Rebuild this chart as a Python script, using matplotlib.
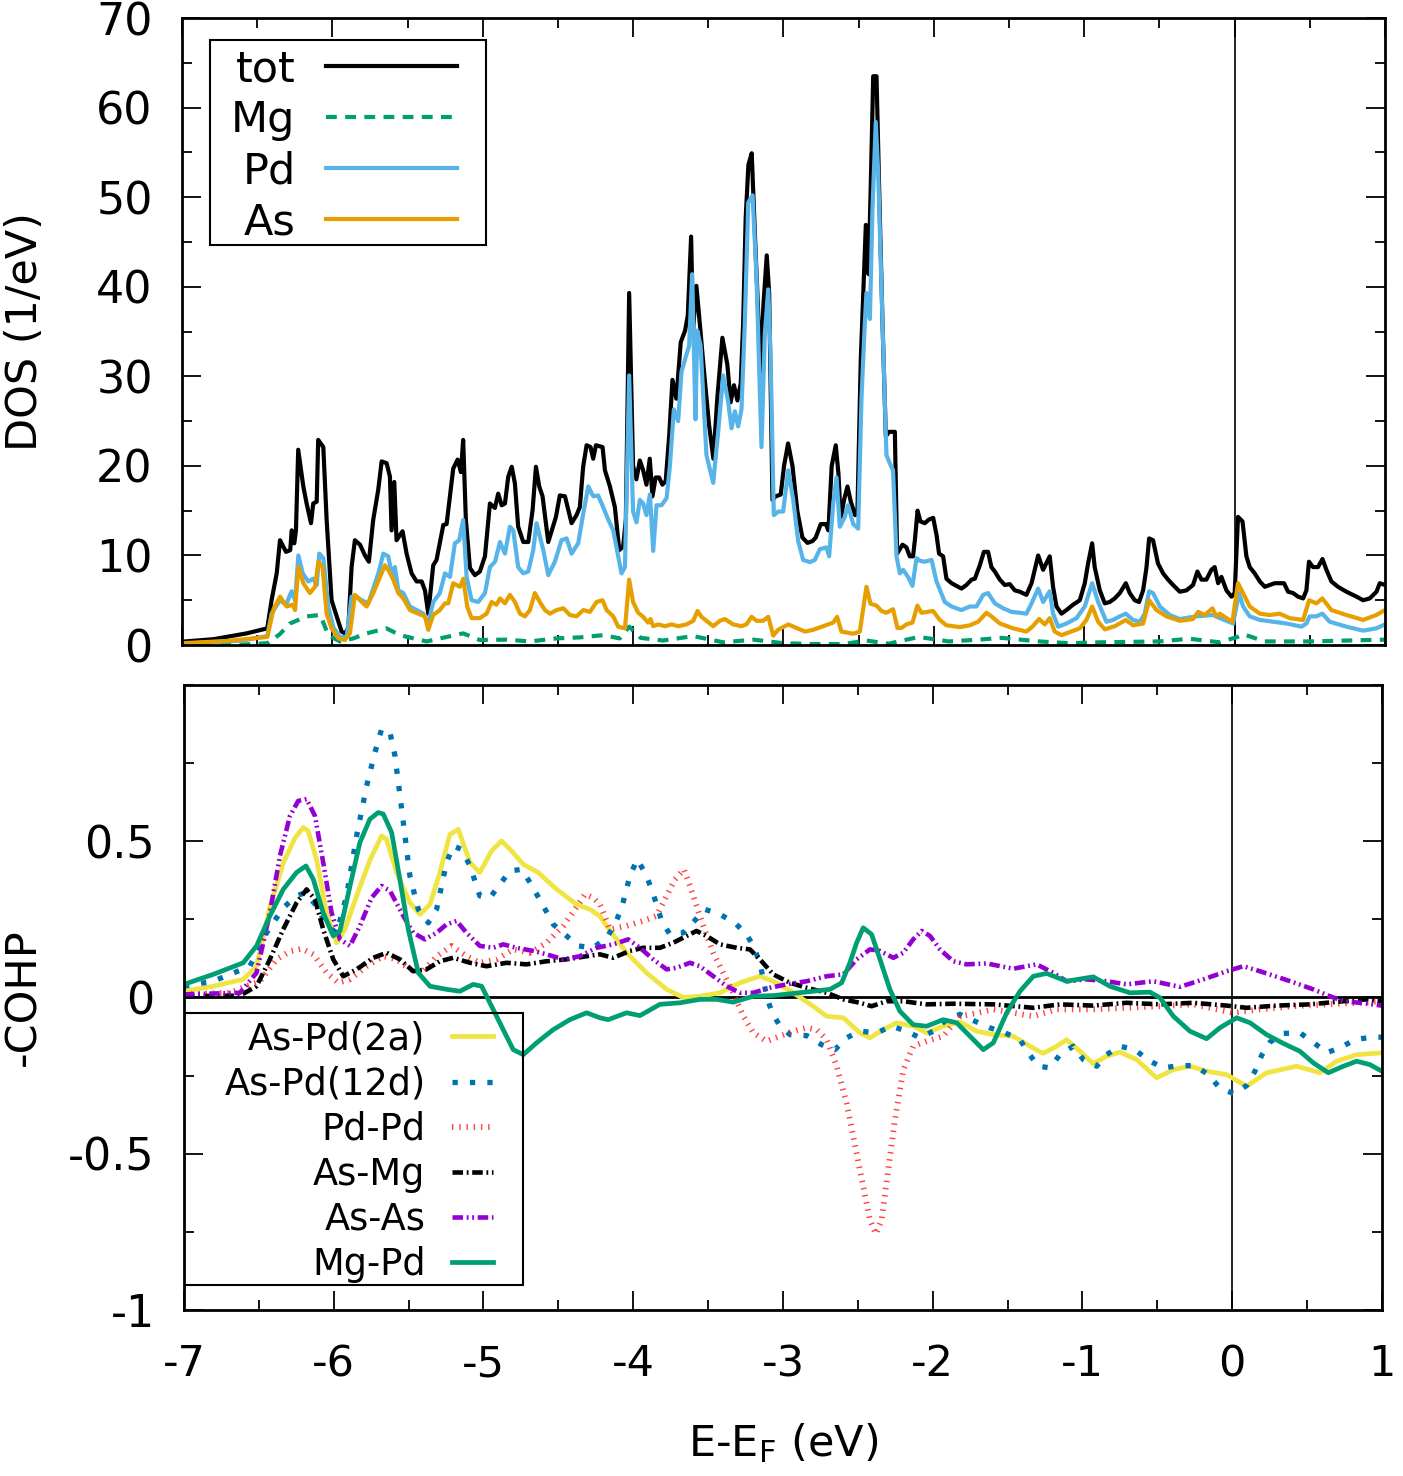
import matplotlib
matplotlib.use("Agg")
import matplotlib.pyplot as plt
from matplotlib.patches import Rectangle
from matplotlib.ticker import MultipleLocator

plt.rcParams['font.family'] = ['DejaVu Sans']
plt.rcParams['axes.unicode_minus'] = False
plt.rcParams['mathtext.default'] = 'regular'

# ---------------- DOS data (energy, value) ----------------
tot_e = [-7.0, -6.79, -6.57, -6.433, -6.404, -6.37, -6.348, -6.308, -6.28, -6.27, -6.253, -6.242, -6.227, -6.193,
         -6.171, -6.142, -6.127, -6.104, -6.094, -6.06, -6.038, -6.005, -5.971, -5.938, -5.916, -5.894, -5.872, -5.85,
         -5.816, -5.783, -5.757, -5.728, -5.695, -5.672, -5.639, -5.617, -5.606, -5.588, -5.573, -5.533, -5.506,
         -5.473, -5.44, -5.406, -5.384, -5.362, -5.329, -5.307, -5.262, -5.24, -5.218, -5.196, -5.167, -5.145, -5.13,
         -5.112, -5.085, -5.052, -5.019, -4.985, -4.952, -4.919, -4.897, -4.874, -4.852, -4.83, -4.807, -4.786,
         -4.764, -4.73, -4.697, -4.668, -4.646, -4.624, -4.602, -4.564, -4.542, -4.513, -4.487, -4.453, -4.431,
         -4.409, -4.376, -4.354, -4.332, -4.309, -4.283, -4.265, -4.247, -4.203, -4.187, -4.154, -4.121, -4.092,
         -4.066, -4.048, -4.026, -4.0, -3.978, -3.955, -3.933, -3.911, -3.889, -3.871, -3.85, -3.827, -3.805, -3.783,
         -3.76, -3.738, -3.712, -3.683, -3.654, -3.636, -3.614, -3.601, -3.579, -3.561, -3.528, -3.495, -3.466,
         -3.44, -3.406, -3.373, -3.351, -3.329, -3.306, -3.284, -3.268, -3.251, -3.233, -3.211, -3.184, -3.151,
         -3.133, -3.111, -3.095, -3.073, -3.051, -3.018, -2.996, -2.969, -2.94, -2.907, -2.874, -2.84, -2.807,
         -2.785, -2.752, -2.718, -2.701, -2.679, -2.652, -2.634, -2.619, -2.597, -2.574, -2.552, -2.523, -2.508,
         -2.486, -2.463, -2.452, -2.434, -2.419, -2.403, -2.381, -2.363, -2.341, -2.319, -2.297, -2.259, -2.244,
         -2.208, -2.182, -2.16, -2.138, -2.126, -2.108, -2.089, -2.06, -2.033, -2.004, -1.982, -1.965, -1.938,
         -1.916, -1.882, -1.849, -1.816, -1.783, -1.749, -1.727, -1.694, -1.667, -1.639, -1.617, -1.594, -1.561,
         -1.528, -1.495, -1.461, -1.428, -1.384, -1.35, -1.306, -1.273, -1.229, -1.207, -1.184, -1.151, -1.118,
         -1.074, -1.029, -0.996, -0.974, -0.947, -0.93, -0.896, -0.863, -0.83, -0.797, -0.763, -0.723, -0.697,
         -0.664, -0.635, -0.608, -0.586, -0.568, -0.542, -0.509, -0.475, -0.442, -0.409, -0.364, -0.32, -0.276,
         -0.247, -0.22, -0.187, -0.154, -0.132, -0.109, -0.087, -0.054, -0.02, 0.001, 0.023, 0.053, 0.079, 0.101,
         0.134, 0.168, 0.201, 0.234, 0.267, 0.3, 0.329, 0.356, 0.389, 0.422, 0.456, 0.478, 0.495, 0.522, 0.555,
         0.585, 0.611, 0.644, 0.688, 0.744, 0.811, 0.855, 0.899, 0.944, 0.966, 1.0]
tot_v = [0.37, 0.65, 1.3, 1.86, 5.0, 8.0, 11.7, 10.4, 10.6, 12.8, 11.35, 12.8, 21.8, 17.7,
         15.8, 13.6, 15.8, 16.0, 22.9, 22.1, 14.0, 5.0, 3.2, 1.5, 1.3, 1.86, 8.7, 11.7,
         11.2, 10.0, 9.3, 14.0, 17.3, 20.5, 20.3, 18.8, 12.8, 18.2, 11.7, 12.7, 10.2,
         8.0, 7.1, 7.1, 6.1, 3.5, 8.9, 9.5, 13.4, 13.5, 16.6, 19.7, 20.7, 19.3, 22.9,
         14.0, 8.6, 7.8, 8.2, 9.9, 15.8, 15.3, 16.9, 15.6, 15.8, 18.8, 19.9, 18.05,
         13.2, 11.5, 11.5, 15.1, 19.9, 17.7, 16.6, 11.5, 12.7, 14.3, 16.7, 16.6, 15.1,
         13.6, 14.5, 15.4, 19.9, 22.3, 22.1, 20.8, 22.3, 22.1, 19.5, 17.7, 15.4, 10.6,
         11.0, 14.0, 39.3, 20.0, 18.5, 20.6, 19.5, 17.9, 20.8, 16.6, 18.7, 18.7, 17.9, 18.3,
         23.3, 29.6, 27.5, 33.8, 35.1, 36.8, 45.6, 35.1, 40.1, 36.8, 30.5, 24.6, 20.8,
         27.5, 34.3, 31.3, 27.1, 29.0, 27.3, 29.2, 35.9, 47.7, 53.6, 54.9, 43.5, 30.5,
         38.0, 43.5, 39.3, 16.2, 16.6, 16.8, 20.0, 22.5, 20.0, 14.9, 12.0, 11.4, 11.6,
         12.0, 13.5, 13.5, 12.8, 20.0, 22.3, 19.1, 14.1, 16.2, 17.7, 16.0, 14.5, 14.9,
         31.7, 41.8, 46.9, 41.4, 51.5, 63.5, 63.5, 50.7, 35.9, 23.3, 23.8, 23.8, 10.2,
         11.2, 10.9, 9.9, 9.9, 11.7, 15.0, 13.8, 13.6, 14.0, 14.2, 12.3, 10.2, 9.9,
         7.4, 6.9, 6.6, 6.3, 6.7, 7.3, 7.4, 8.9, 10.4, 10.4, 8.7, 8.2, 7.3,
         6.7, 6.8, 6.1, 5.95, 5.6, 6.9, 10.0, 8.4, 9.9, 6.5, 4.3, 3.5, 3.9,
         4.5, 5.0, 6.9, 9.1, 11.35, 8.7, 6.1, 4.65, 4.8, 5.2, 5.8, 6.9, 5.8,
         5.0, 4.8, 6.1, 8.6, 11.9, 11.7, 9.1, 8.0, 7.3, 6.7, 5.95, 6.1, 6.7,
         8.2, 7.3, 7.3, 8.4, 8.7, 6.9, 7.6, 6.1, 5.4, 5.8, 14.3, 13.8, 9.9, 8.7,
         8.0, 7.1, 6.5, 6.7, 6.9, 6.9, 6.9, 5.95, 5.8, 5.4, 5.2, 6.1, 9.3, 8.7, 8.7,
         9.6, 8.4, 7.1, 6.5, 5.95, 5.4, 5.0, 5.2, 5.95, 6.9, 6.7]

mg_e = [-7.0, -6.6, -6.432, -6.35, -6.282, -6.171, -6.08, -6.027, -5.95, -5.86, -5.772, -5.64, -5.55, -5.46,
        -5.373, -5.24, -5.13, -5.02, -4.84, -4.686, -4.509, -4.354, -4.199, -4.088, -4.026, -3.95, -3.8, -3.6,
        -3.4, -3.2, -3.0, -2.8, -2.6, -2.45, -2.3, -2.1, -1.9, -1.7, -1.55, -1.3, -1.1, -0.9, -0.5, -0.3, -0.1,
        0.02, 0.06, 0.2, 0.5, 1.0]
mg_v = [0.0, 0.05, 0.2, 1.2, 2.4, 3.2, 3.35, 1.1, 0.4, 0.74, 1.3, 1.86, 1.1, 0.74,
        0.4, 0.9, 1.3, 0.56, 0.6, 0.4, 0.74, 0.85, 1.1, 0.74, 2.05, 0.8, 0.5, 1.0,
        0.3, 0.6, 0.2, 0.1, 0.1, 0.5, 0.15, 0.9, 0.4, 0.6, 0.8, 0.4, 0.2, 0.3, 0.4, 0.7, 0.3,
        0.9, 1.2, 0.4, 0.4, 0.6]

pd_e = [-7.0, -6.6, -6.433, -6.404, -6.349, -6.308, -6.271, -6.248, -6.226, -6.197, -6.16, -6.126, -6.104,
        -6.087, -6.06, -6.027, -5.994, -5.95, -5.905, -5.872, -5.839, -5.805, -5.761, -5.728, -5.694, -5.661,
        -5.628, -5.601, -5.584, -5.561, -5.528, -5.484, -5.44, -5.395, -5.362, -5.329, -5.285, -5.251, -5.218,
        -5.185, -5.156, -5.13, -5.107, -5.074, -5.03, -4.985, -4.952, -4.918, -4.885, -4.852, -4.819, -4.797,
        -4.764, -4.73, -4.697, -4.664, -4.642, -4.597, -4.564, -4.52, -4.476, -4.442, -4.409, -4.365, -4.331,
        -4.298, -4.265, -4.232, -4.199, -4.165, -4.132, -4.099, -4.077, -4.054, -4.026, -4.0, -3.977, -3.955,
        -3.933, -3.911, -3.888, -3.866, -3.844, -3.811, -3.777, -3.755, -3.729, -3.7, -3.678, -3.649, -3.627,
        -3.607, -3.585, -3.573, -3.551, -3.512, -3.467, -3.434, -3.401, -3.367, -3.345, -3.323, -3.301, -3.279,
        -3.257, -3.234, -3.205, -3.179, -3.146, -3.124, -3.101, -3.086, -3.064, -3.035, -3.002, -2.968, -2.935,
        -2.902, -2.869, -2.824, -2.791, -2.758, -2.714, -2.696, -2.669, -2.647, -2.625, -2.592, -2.57, -2.536,
        -2.503, -2.481, -2.459, -2.448, -2.425, -2.408, -2.386, -2.37, -2.341, -2.315, -2.293, -2.271, -2.248,
        -2.226, -2.204, -2.171, -2.142, -2.115, -2.093, -2.06, -2.015, -1.982, -1.927, -1.882, -1.816, -1.76,
        -1.716, -1.672, -1.639, -1.594, -1.539, -1.483, -1.428, -1.384, -1.35, -1.306, -1.273, -1.229, -1.207,
        -1.173, -1.118, -1.051, -0.996, -0.947, -0.907, -0.852, -0.808, -0.763, -0.723, -0.675, -0.63, -0.597,
        -0.568, -0.542, -0.497, -0.431, -0.364, -0.253, -0.143, -0.098, -0.01, 0.03, 0.057, 0.101, 0.168, 0.256,
        0.345, 0.445, 0.478, 0.5, 0.545, 0.584, 0.633, 0.744, 0.855, 0.943, 1.0]
pd_v = [0.15, 0.5, 1.0, 3.5, 5.0, 4.5, 6.0, 5.0, 10.0, 8.0, 7.1, 7.4, 6.7,
        10.2, 9.7, 4.3, 2.0, 0.9, 0.9, 5.4, 5.4, 5.0, 4.65, 6.3, 8.0, 10.2,
        9.9, 7.6, 8.7, 6.1, 5.8, 4.3, 3.9, 3.5, 2.4, 4.8, 5.8, 8.0, 7.6,
        11.35, 11.7, 13.96, 7.6, 5.0, 4.8, 5.8, 8.7, 9.3, 11.5, 10.2, 13.2, 12.8,
        8.7, 8.0, 8.2, 10.6, 13.6, 10.6, 7.8, 9.3, 11.7, 11.9, 10.2, 11.35, 14.7,
        17.7, 16.6, 16.7, 15.4, 14.0, 12.8, 9.9, 8.0, 8.7, 30.1, 14.9, 13.7, 16.2,
        15.8, 14.5, 16.8, 10.5, 15.6, 15.6, 16.4, 20.0, 26.3, 25.0, 30.5, 32.2, 33.4,
        41.4, 25.2, 35.1, 33.4, 21.2, 18.1, 23.8, 30.1, 27.1, 24.2, 26.1, 24.4, 26.3,
        35.9, 49.4, 50.2, 41.0, 22.1, 34.7, 39.7, 32.6, 14.5, 14.9, 14.9, 19.5, 16.2,
        11.6, 9.5, 9.25, 9.5, 10.7, 10.9, 9.9, 15.8, 18.7, 13.2, 14.3, 15.6, 13.5,
        13.0, 27.5, 35.9, 39.3, 36.4, 48.6, 58.4, 52.8, 35.9, 21.2, 20.3, 19.5, 9.9,
        8.0, 8.4, 7.6, 6.6, 9.7, 9.4, 9.3, 9.5, 7.1, 4.8, 4.3, 3.9, 4.3,
        4.3, 5.6, 5.8, 4.65, 4.1, 3.7, 3.6, 3.5, 4.65, 6.3, 4.8, 6.0, 3.5,
        2.05, 2.4, 3.0, 4.3, 6.9, 4.8, 2.6, 2.8, 3.2, 3.5, 2.8, 2.6, 3.5,
        6.0, 5.8, 4.3, 3.35, 2.9, 3.2, 3.35, 3.0, 2.4, 5.8, 4.3, 3.2, 2.8, 2.6,
        2.4, 2.05, 2.4, 3.2, 3.2, 3.5, 2.6, 2.05, 1.6, 1.86, 2.3]

as_e = [-7.0, -6.7, -6.432, -6.393, -6.348, -6.304, -6.264, -6.248, -6.226, -6.193, -6.149, -6.115, -6.093,
        -6.065, -6.038, -6.005, -5.96, -5.916, -5.883, -5.85, -5.816, -5.772, -5.728, -5.683, -5.65, -5.621,
        -5.595, -5.561, -5.528, -5.484, -5.429, -5.384, -5.362, -5.329, -5.285, -5.251, -5.229, -5.196, -5.151,
        -5.129, -5.103, -5.074, -5.019, -4.974, -4.941, -4.908, -4.885, -4.852, -4.819, -4.786, -4.752, -4.719,
        -4.686, -4.653, -4.62, -4.586, -4.553, -4.509, -4.464, -4.42, -4.376, -4.331, -4.287, -4.243, -4.203,
        -4.176, -4.132, -4.099, -4.054, -4.026, -4.0, -3.966, -3.933, -3.9, -3.884, -3.866, -3.833, -3.788,
        -3.744, -3.7, -3.645, -3.6, -3.571, -3.545, -3.512, -3.467, -3.423, -3.39, -3.334, -3.279, -3.246,
        -3.212, -3.179, -3.135, -3.101, -3.068, -3.035, -2.968, -2.913, -2.857, -2.802, -2.736, -2.669, -2.643,
        -2.614, -2.536, -2.492, -2.448, -2.421, -2.381, -2.348, -2.315, -2.271, -2.242, -2.215, -2.182, -2.142,
        -2.109, -2.082, -2.005, -1.96, -1.916, -1.827, -1.76, -1.705, -1.65, -1.617, -1.561, -1.472, -1.384,
        -1.344, -1.3, -1.262, -1.229, -1.196, -1.151, -1.029, -0.985, -0.947, -0.907, -0.863, -0.797, -0.723,
        -0.675, -0.608, -0.568, -0.519, -0.453, -0.364, -0.276, -0.242, -0.198, -0.147, -0.121, -0.098, -0.054,
        -0.014, 0.023, 0.057, 0.101, 0.168, 0.234, 0.3, 0.367, 0.456, 0.496, 0.544, 0.584, 0.644, 0.744, 0.855,
        0.943, 1.0]
as_v = [0.2, 0.45, 0.9, 3.9, 5.4, 4.3, 4.5, 3.9, 8.7, 6.9, 5.8, 6.5, 9.3,
        8.7, 3.5, 1.86, 0.74, 0.56, 1.3, 5.6, 5.0, 4.3, 5.8, 7.6, 8.9, 8.2,
        7.3, 5.8, 5.2, 3.9, 3.5, 3.2, 1.7, 3.35, 3.9, 4.65, 4.65, 6.9, 6.5,
        7.4, 4.3, 3.0, 3.0, 3.5, 4.8, 4.5, 5.2, 4.65, 5.6, 4.8, 3.5, 3.2,
        3.9, 5.8, 4.8, 3.9, 3.5, 3.9, 4.1, 3.35, 3.2, 3.9, 3.7, 4.8, 5.0,
        3.9, 3.2, 2.05, 1.86, 7.3, 4.8, 3.6, 3.15, 2.5, 2.9, 2.1, 2.3, 2.1,
        2.3, 2.1, 2.3, 2.7, 3.8, 3.15, 2.7, 2.1, 2.7, 2.9, 2.3, 2.1, 2.3,
        3.15, 2.7, 2.7, 3.15, 1.05, 1.7, 2.3, 1.9, 1.5, 1.7, 2.1, 2.5, 3.15,
        1.5, 1.26, 1.5, 6.5, 4.6, 4.4, 3.8, 3.6, 4.0, 1.9, 1.9, 2.3, 2.5,
        4.4, 3.6, 3.8, 2.8, 2.2, 2.0, 2.2, 2.6, 3.6, 3.2, 2.4, 1.86, 1.5,
        2.05, 2.9, 2.3, 3.0, 1.5, 1.1, 1.86, 2.8, 4.3, 2.6, 1.75, 2.1, 2.8,
        2.2, 2.4, 5.0, 3.9, 3.2, 2.7, 2.9, 3.7, 3.35, 4.1, 3.2, 3.5, 3.0,
        2.6, 6.9, 5.8, 4.3, 3.5, 3.35, 3.5, 3.0, 2.8, 5.0, 4.65, 5.2, 3.9, 3.35, 2.8,
        3.35, 3.9]

# ---------------- COHP data (energy, -COHP) ----------------
aspd2a_e = [-7.0, -6.804, -6.604, -6.515, -6.426, -6.337, -6.259, -6.203, -6.17, -6.114, -6.047, -5.98, -5.925,
            -5.847, -5.758, -5.68, -5.647, -5.58, -5.491, -5.424, -5.357, -5.291, -5.224, -5.168, -5.09, -5.024,
            -4.946, -4.879, -4.812, -4.734, -4.634, -4.511, -4.378, -4.289, -4.222, -4.178, -4.044, -3.911, -3.777,
            -3.666, -3.554, -3.421, -3.287, -3.154, -3.065, -2.931, -2.798, -2.708, -2.597, -2.486, -2.419, -2.33,
            -2.241, -2.13, -2.041, -1.93, -1.818, -1.707, -1.595, -1.462, -1.351, -1.262, -1.172, -1.106, -1.017,
            -0.928, -0.839, -0.75, -0.638, -0.505, -0.393, -0.282, -0.171, -0.037, 0.096, 0.23, 0.43, 0.586, 0.697,
            0.831, 1.0]
aspd2a_v = [0.02, 0.036, 0.058, 0.1, 0.29, 0.43, 0.51, 0.544, 0.533, 0.44, 0.27, 0.175, 0.218,
            0.325, 0.44, 0.517, 0.506, 0.4, 0.303, 0.266, 0.298, 0.4, 0.522, 0.538, 0.432, 0.4,
            0.469, 0.501, 0.469, 0.426, 0.4, 0.346, 0.298, 0.282, 0.26, 0.229, 0.143, 0.079, 0.026,
            0.0, 0.004, 0.015, 0.047, 0.068, 0.052, 0.015, -0.028, -0.06, -0.065, -0.113, -0.129, -0.103,
            -0.081, -0.092, -0.113, -0.092, -0.078, -0.108, -0.119, -0.124, -0.156, -0.179, -0.156, -0.135, -0.172,
            -0.212, -0.188, -0.175, -0.199, -0.257, -0.231, -0.22, -0.236, -0.247, -0.284, -0.241, -0.22, -0.241,
            -0.204, -0.183, -0.177]

aspd12d_e = [-7.0, -6.804, -6.56, -6.448, -6.337, -6.248, -6.192, -6.114, -6.047, -5.98, -5.914, -5.847, -5.78,
             -5.725, -5.68, -5.624, -5.591, -5.546, -5.491, -5.435, -5.368, -5.313, -5.246, -5.202, -5.146, -5.09,
             -5.024, -4.957, -4.89, -4.823, -4.745, -4.689, -4.6, -4.534, -4.445, -4.367, -4.267, -4.178, -4.122,
             -4.077, -4.022, -3.973, -3.915, -3.877, -3.844, -3.81, -3.755, -3.666, -3.599, -3.521, -3.421, -3.321,
             -3.243, -3.198, -3.154, -3.131, -3.109, -3.076, -3.02, -2.953, -2.842, -2.742, -2.653, -2.575, -2.486,
             -2.374, -2.274, -2.174, -2.085, -1.996, -1.907, -1.818, -1.718, -1.618, -1.518, -1.417, -1.362, -1.295,
             -1.217, -1.15, -1.061, -0.994, -0.905, -0.839, -0.75, -0.649, -0.56, -0.46, -0.349, -0.249, -0.16,
             -0.082, 0.012, 0.096, 0.152, 0.197, 0.252, 0.341, 0.452, 0.541, 0.63, 0.72, 0.82, 0.931, 1.0]
aspd12d_v = [0.036, 0.052, 0.1, 0.207, 0.287, 0.325, 0.335, 0.293, 0.229, 0.207, 0.325, 0.517, 0.677,
             0.784, 0.859, 0.848, 0.774, 0.603, 0.389, 0.282, 0.239, 0.282, 0.432, 0.485, 0.474, 0.421,
             0.325, 0.319, 0.362, 0.405, 0.41, 0.368, 0.293, 0.234, 0.197, 0.165, 0.159, 0.191, 0.234,
             0.287, 0.389, 0.442, 0.394, 0.346, 0.298, 0.245, 0.202, 0.207, 0.241, 0.282, 0.266, 0.239,
             0.202, 0.165, 0.111, 0.058, 0.004, -0.044, -0.092, -0.119, -0.122, -0.151, -0.167, -0.129, -0.108,
             -0.113, -0.092, -0.108, -0.129, -0.108, -0.071, -0.054, -0.076, -0.097, -0.113, -0.135, -0.177, -0.22,
             -0.225, -0.183, -0.156, -0.199, -0.22, -0.183, -0.156, -0.167, -0.201, -0.225, -0.218, -0.218, -0.247,
             -0.29, -0.308, -0.282, -0.236, -0.185, -0.143, -0.115, -0.113, -0.143, -0.177, -0.161, -0.135, -0.127,
             -0.127]

pdpd_e = [-7.0, -6.693, -6.493, -6.381, -6.292, -6.214, -6.136, -6.047, -5.969, -5.892, -5.78, -5.669, -5.58,
          -5.491, -5.402, -5.313, -5.213, -5.113, -5.024, -4.912, -4.801, -4.689, -4.578, -4.467, -4.389, -4.322,
          -4.267, -4.222, -4.155, -4.044, -3.933, -3.844, -3.777, -3.721, -3.661, -3.621, -3.577, -3.532, -3.465,
          -3.399, -3.332, -3.265, -3.198, -3.109, -3.02, -2.931, -2.842, -2.775, -2.708, -2.641, -2.575, -2.508,
          -2.464, -2.419, -2.379, -2.341, -2.297, -2.252, -2.196, -2.13, -2.041, -1.93, -1.818, -1.707, -1.595,
          -1.462, -1.328, -1.172, -0.928, -0.705, -0.482, -0.26, 0.007, 0.185, 0.408, 0.63, 0.853, 1.0]
pdpd_v = [0.01, 0.015, 0.052, 0.122, 0.148, 0.156, 0.138, 0.079, 0.047, 0.058, 0.1, 0.132, 0.122,
          0.09, 0.084, 0.132, 0.165, 0.132, 0.111, 0.122, 0.154, 0.143, 0.175, 0.229, 0.282, 0.33,
          0.319, 0.298, 0.218, 0.229, 0.245, 0.261, 0.325, 0.378, 0.41, 0.357, 0.293, 0.229, 0.143,
          0.079, 0.015, -0.06, -0.113, -0.14, -0.124, -0.108, -0.097, -0.103, -0.135, -0.22, -0.338, -0.498,
          -0.605, -0.712, -0.757, -0.712, -0.551, -0.391, -0.231, -0.156, -0.14, -0.124, -0.06, -0.05, -0.038,
          -0.049, -0.06, -0.038, -0.038, -0.033, -0.028, -0.022, -0.049, -0.038, -0.028, -0.022, -0.017, -0.012]

asmg_e = [-7.0, -6.626, -6.515, -6.426, -6.337, -6.248, -6.181, -6.125, -6.07, -6.003, -5.936, -5.847, -5.736,
          -5.647, -5.558, -5.469, -5.38, -5.291, -5.202, -5.09, -4.979, -4.845, -4.712, -4.578, -4.445, -4.311,
          -4.222, -4.133, -4.022, -3.933, -3.822, -3.733, -3.643, -3.577, -3.51, -3.421, -3.309, -3.221, -3.154,
          -3.065, -2.953, -2.842, -2.708, -2.597, -2.486, -2.408, -2.308, -2.197, -2.041, -1.863, -1.595, -1.328,
          -1.15, -0.928, -0.705, -0.482, -0.26, -0.037, 0.096, 0.296, 0.519, 0.742, 0.898, 1.0]
asmg_v = [0.004, 0.006, 0.036, 0.122, 0.218, 0.303, 0.346, 0.314, 0.218, 0.122, 0.068, 0.09, 0.127,
          0.143, 0.122, 0.084, 0.09, 0.116, 0.127, 0.111, 0.1, 0.111, 0.106, 0.116, 0.122, 0.132,
          0.138, 0.127, 0.149, 0.159, 0.159, 0.175, 0.197, 0.213, 0.197, 0.17, 0.159, 0.154, 0.122,
          0.074, 0.047, 0.031, 0.015, -0.006, -0.017, -0.028, -0.012, -0.012, -0.022, -0.02, -0.022, -0.033,
          -0.022, -0.026, -0.017, -0.022, -0.017, -0.026, -0.033, -0.026, -0.022, -0.012, -0.006, -0.012]

asas_e = [-7.0, -6.626, -6.515, -6.426, -6.359, -6.292, -6.237, -6.181, -6.125, -6.07, -6.014, -5.958, -5.891,
          -5.825, -5.747, -5.68, -5.624, -5.535, -5.469, -5.391, -5.313, -5.246, -5.179, -5.113, -5.024, -4.934,
          -4.868, -4.779, -4.667, -4.578, -4.467, -4.356, -4.245, -4.133, -4.033, -3.955, -3.866, -3.777, -3.71,
          -3.621, -3.555, -3.465, -3.376, -3.287, -3.198, -3.087, -2.976, -2.842, -2.708, -2.597, -2.508, -2.419,
          -2.352, -2.263, -2.197, -2.13, -2.074, -2.018, -1.952, -1.863, -1.774, -1.64, -1.462, -1.306, -1.195,
          -1.106, -0.972, -0.839, -0.705, -0.527, -0.349, -0.193, -0.037, 0.074, 0.185, 0.319, 0.43, 0.541,
          0.653, 0.742, 0.853, 1.0]
asas_v = [0.01, 0.015, 0.079, 0.271, 0.453, 0.581, 0.629, 0.635, 0.581, 0.432, 0.271, 0.186, 0.165,
          0.229, 0.319, 0.357, 0.341, 0.261, 0.207, 0.186, 0.207, 0.234, 0.245, 0.207, 0.165, 0.159,
          0.17, 0.159, 0.149, 0.138, 0.122, 0.132, 0.159, 0.17, 0.186, 0.159, 0.122, 0.09, 0.095,
          0.111, 0.1, 0.068, 0.036, 0.015, 0.015, 0.031, 0.042, 0.052, 0.068, 0.074, 0.122, 0.154,
          0.149, 0.127, 0.143, 0.186, 0.213, 0.197, 0.154, 0.116, 0.106, 0.109, 0.092, 0.106, 0.079,
          0.052, 0.058, 0.052, 0.042, 0.052, 0.034, 0.058, 0.084, 0.1, 0.084, 0.063, 0.045, 0.026,
          0.004, -0.012, -0.017, -0.026]

mgpd_e = [-7.0, -6.804, -6.604, -6.515, -6.426, -6.337, -6.248, -6.185, -6.136, -6.07, -6.003, -5.958, -5.891,
          -5.825, -5.758, -5.702, -5.669, -5.613, -5.558, -5.502, -5.435, -5.357, -5.246, -5.157, -5.068, -5.012,
          -4.957, -4.868, -4.801, -4.734, -4.645, -4.534, -4.423, -4.311, -4.222, -4.167, -4.044, -3.955, -3.822,
          -3.688, -3.554, -3.443, -3.332, -3.198, -3.065, -2.931, -2.798, -2.686, -2.608, -2.553, -2.508, -2.464,
          -2.408, -2.352, -2.286, -2.219, -2.13, -2.041, -1.93, -1.84, -1.751, -1.662, -1.595, -1.506, -1.417,
          -1.328, -1.239, -1.106, -0.928, -0.817, -0.683, -0.549, -0.482, -0.393, -0.282, -0.171, -0.082, 0.03,
          0.119, 0.23, 0.341, 0.452, 0.541, 0.642, 0.742, 0.831, 0.92, 1.0]
mgpd_v = [0.042, 0.074, 0.111, 0.165, 0.261, 0.346, 0.4, 0.421, 0.378, 0.271, 0.197, 0.213, 0.357,
          0.496, 0.571, 0.592, 0.587, 0.528, 0.378, 0.218, 0.079, 0.036, 0.026, 0.02, 0.042, 0.036,
          -0.017, -0.103, -0.167, -0.183, -0.145, -0.103, -0.071, -0.049, -0.065, -0.071, -0.049, -0.058, -0.022,
          -0.017, -0.006, -0.006, -0.015, 0.004, 0.006, 0.013, 0.02, 0.026, 0.047, 0.111, 0.175, 0.223,
          0.202, 0.122, 0.026, -0.044, -0.087, -0.092, -0.071, -0.081, -0.124, -0.167, -0.145, -0.049, 0.02,
          0.068, 0.077, 0.052, 0.066, 0.036, 0.015, 0.017, -0.001, -0.06, -0.108, -0.132, -0.097, -0.065,
          -0.081, -0.119, -0.147, -0.172, -0.209, -0.241, -0.22, -0.204, -0.215, -0.236]

x_ticks = [-7, -6, -5, -4, -3, -2, -1, 0, 1]
x_ticklabels = ['-7', '-6', '-5', '-4', '-3', '-2', '-1', '0', '1']
dos_ticks = [0, 10, 20, 30, 40, 50, 60, 70]
cohp_ticks = [-1, -0.5, 0, 0.5]
cohp_ticklabels = ['-1', '-0.5', '0', '0.5']

# ---------------- Figure ----------------
fig = plt.figure(figsize=(14.03, 14.76), dpi=100)
ax1 = fig.add_axes([0.1297, 0.563, 0.8574, 0.4248])
ax2 = fig.add_axes([0.1311, 0.1125, 0.8539, 0.4234])

for ax in (ax1, ax2):
    for s in ax.spines.values():
        s.set_linewidth(2.0)
    ax.tick_params(which='both', direction='in', top=True, right=True, width=1.3)
    ax.tick_params(which='major', length=14)
    ax.tick_params(which='minor', length=7)
    ax.tick_params(axis='y', pad=21, labelsize=32)
    ax.tick_params(axis='x', pad=24, labelsize=31)
    ax.set_xlim(-7, 1)
    ax.set_xticks(x_ticks)
    ax.xaxis.set_minor_locator(MultipleLocator(0.5))
    ax.axvline(0, color='black', lw=1.2, zorder=1)

# top DOS
ax1.plot(tot_e, tot_v, color='black', lw=3.0, label='tot')
ax1.plot(mg_e, mg_v, color='#009e73', lw=3.0, dashes=(2.6, 2.0), label='Mg')
ax1.plot(pd_e, pd_v, color='#56b4e9', lw=3.0, label='Pd')
ax1.plot(as_e, as_v, color='#e69f00', lw=3.0, label='As')
ax1.set_ylim(0, 70)
ax1.set_yticks(dos_ticks)
ax1.yaxis.set_minor_locator(MultipleLocator(5))
ax1.tick_params(labelbottom=False)
ax1.set_ylabel('DOS (1/eV)', fontsize=31)
ax1.yaxis.label.set_va('center')
ax1.yaxis.set_label_coords(-0.1305, 0.5)
leg1 = ax1.legend(loc='upper right', bbox_to_anchor=(0.2286, 0.952), borderaxespad=0,
                  markerfirst=False, fontsize=31, handlelength=3.05, handletextpad=0.7,
                  labelspacing=0.21, borderpad=0, frameon=False)
ax1.add_patch(Rectangle((0.0233, 0.638), 0.2294, 0.327, transform=ax1.transAxes,
                        fill=False, edgecolor='black', lw=1.5, zorder=5))

# bottom COHP
ax2.axhline(0, color='black', lw=2.0, zorder=1)
ax2.plot(aspd2a_e, aspd2a_v, color='#f0e442', lw=3.4, label='As-Pd(2a)')
ax2.plot(aspd12d_e, aspd12d_v, color='#0072b2', lw=3.8, dashes=(1.0, 2.3),
         dash_capstyle='butt', label='As-Pd(12d)')
ax2.plot(pdpd_e, pdpd_v, color='#ff2020', lw=4.2, dashes=(0.24, 1.0), alpha=0.85,
         dash_capstyle='butt', label='Pd-Pd')
ax2.plot(asmg_e, asmg_v, color='black', lw=3.3, dashes=(2.3, 0.8, 0.4, 0.8),
         dash_capstyle='butt', label='As-Mg')
ax2.plot(asas_e, asas_v, color='#9400d3', lw=3.3, dashes=(2.3, 0.8, 0.4, 0.8, 0.4, 0.8),
         dash_capstyle='butt', label='As-As')
ax2.plot(mgpd_e, mgpd_v, color='#009e73', lw=3.4, label='Mg-Pd')
ax2.set_ylim(-1, 1)
ax2.set_yticks(cohp_ticks)
ax2.set_yticklabels(cohp_ticklabels)
ax2.yaxis.set_minor_locator(MultipleLocator(0.25))
ax2.set_xticklabels(x_ticklabels)
ax2.set_ylabel('-COHP', fontsize=31)
ax2.yaxis.label.set_va('center')
ax2.yaxis.set_label_coords(-0.1344, 0.5)
ax2.set_xlabel('E-E$_\\mathregular{F}$ (eV)', fontsize=31, labelpad=26)
leg2 = ax2.legend(loc='upper right', bbox_to_anchor=(0.2579, 0.4635), borderaxespad=0,
                  markerfirst=False, fontsize=26.5, handlelength=1.1, handletextpad=0.73,
                  labelspacing=0.22, borderpad=0, frameon=False)
ax2.add_patch(Rectangle((0.0, 0.04), 0.283, 0.4352, transform=ax2.transAxes,
                        fill=False, edgecolor='black', lw=1.5, zorder=5))

fig.savefig('out.png', dpi=100)
